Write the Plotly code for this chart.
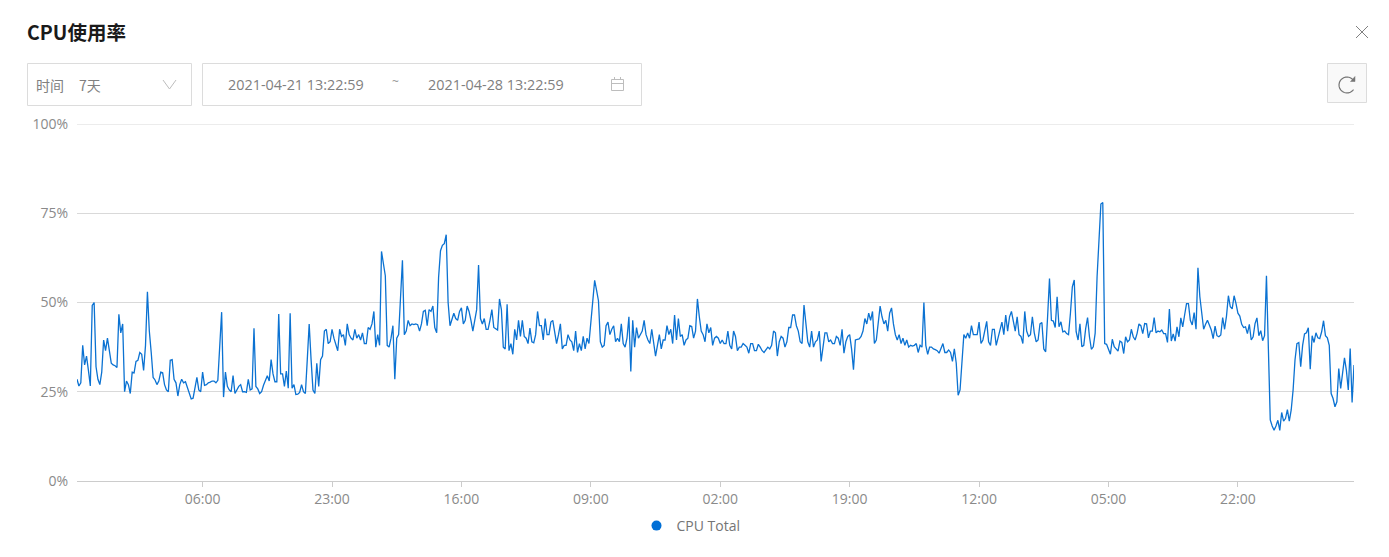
import math
import pandas as pd
import plotly.graph_objects as go

W, H = 1389, 557
L, R, T, B = 77, 35, 124, 76
LINE_COLOR = "#0b72d2"
SERIES_NAME = "CPU Total"
TITLE = "CPU使用率"
RANGE_START = "2021-04-21 13:22:59"
RANGE_END = "2021-04-28 13:22:59"
Y_TICKS = [0, 25, 50, 75, 100]
Y_LABELS = ["0%", "25%", "50%", "75%", "100%"]
X_LABELS = ["06:00", "23:00", "16:00", "09:00", "02:00", "19:00", "12:00", "05:00", "22:00"]

cpu_part_a = [
    28.5, 26.6, 27.5, 38, 32.5, 35, 31, 26.6, 49.2, 50, 32, 28.5, 27, 30.5, 39.5, 36.5, 40, 37, 33, 32.5,
    32.3, 31.8, 46.7, 41.5, 44, 25, 28, 27, 24.5, 30.5, 30.3, 33.5, 33.8, 36, 35.5, 31, 38, 53, 42, 36,
    29, 28.3, 27, 28, 30.5, 30.3, 27, 25.5, 25, 33.8, 34, 28.5, 27.5, 23.8, 27, 28.5, 27.5, 27.8, 26, 24.5,
    23, 23.2, 26, 29, 25.5, 25, 30.5, 26.8, 27, 27.5, 27.7, 28, 28, 27.5, 28.2, 37, 47.3, 23.5, 30.5, 26.5,
    25.5, 25, 29.5, 24.5, 25.5, 26.5, 27, 25, 25, 24.8, 28.5, 25.5, 25.8, 42.8, 26.5, 25.8, 24.5, 25, 26.8, 28,
    29.5, 28, 34, 30, 27.8, 27.8, 46.8, 30, 30, 26.5, 30.8, 26, 47, 26, 27, 24.2, 24.3, 24.8, 27, 25,
    24.5, 34, 44, 34, 25.5, 24.5, 33, 26.5, 34, 35, 42, 42.5, 38.5, 39, 42.5, 40, 38.5, 36.5, 42.5, 40.5,
    41, 38, 44, 41, 40, 39.5, 42.5, 40, 41, 39.5, 41.5, 38.5, 38.5, 43, 42.5, 44, 47.5, 37.5, 41, 38,
    64.3, 61, 57.5, 38, 37.5, 40, 43.5, 28.5, 40, 41, 50,
]
cpu_part_b = [
    61.8, 41, 42, 45, 43.5, 44, 43.8, 44, 43.8, 42, 44, 47.5, 47.8, 43.5, 48, 47.5, 49, 43, 41.5, 57,
    64.5, 66, 66.5, 69, 50, 43.5, 45, 47, 45.5, 45, 47.5, 48.5, 44, 45, 49, 47.5, 45, 42, 45, 48,
    60.5, 45.5, 44, 45.5, 42.5, 42.5, 45, 48, 43, 42.7, 42.3, 51, 48, 37.5, 37, 49.5, 36.5, 38.5, 35.5, 42.5,
    39.5, 45, 40.5, 45, 40.5, 40, 38.5, 42.8, 39, 38.7, 41, 47.5, 43.5, 43.5, 39.5, 45.5, 41, 41, 44.5, 45,
    41, 38.5, 41, 44, 37, 38, 38, 41, 39.5, 39, 36.5, 42, 36, 38.5, 36.5, 40.5, 37, 40, 38.5, 44,
    49, 56.2, 53.5, 50.5, 39, 37.5, 38, 43.5, 44.5, 41, 42.5, 43.5, 39, 40, 39, 44, 38.5, 37.5, 40, 46,
    30.7, 45, 37.5, 43, 40, 41, 42, 45, 41, 39.5, 38.5, 42.5, 38, 35, 38, 41, 37, 39.5, 39.5, 43.5,
    41, 42.5, 38.5, 46.5, 39.5, 45.5, 40.5, 41, 38, 39.5, 40, 43.5, 43.3, 40, 42, 51, 46, 42, 41, 39,
    44, 41.5, 43, 38, 40, 40.5, 40, 38.5,
]
cpu_part_c = [
    39.5, 38.5, 38.5, 42, 38, 37, 42, 40.5, 36.5, 37.5, 37.5, 38.5, 38, 37.5, 35.8, 38.5, 38.5, 36.5, 36.5, 38.3,
    37.5, 36.5, 36, 36.8, 37.5, 37, 38, 42, 41.5, 35, 39, 40.5, 40, 37.5, 39, 43, 43, 46.5, 46.5, 43.5,
    42, 39, 38.5, 49.3, 45, 39, 37.5, 42, 37.5, 39, 39.5, 42, 33.5, 38, 41.5, 41.5, 39, 39.5, 38.5, 38.5,
    40.5, 40, 38, 42.5, 35.8, 39, 40.5, 41, 37, 31.2, 39.5, 39.7, 39.8, 40.5, 42, 45.5, 44, 47, 45, 47.5,
    38.5, 39.5, 44, 49, 46, 44, 45, 42, 47, 48.5, 44, 41, 39.5, 41, 38.5, 40, 38, 39.5, 37.5, 38,
    37.8, 38, 38.5, 36, 38, 37.5, 50, 38, 35.5, 37.5, 37.5, 37, 36.8, 36.5, 35.8, 37.5, 38.5, 36, 36, 36.7,
    36, 33.5, 37, 33, 24, 25.5, 33, 41, 40, 41.5, 40, 43.5, 41, 41, 41, 44.5, 38.5, 39.5, 42, 44.7,
    39, 38, 42.5, 42.5, 38, 40, 42, 44.5, 41, 46.5, 42, 46, 47.5, 44.5, 42, 46, 41, 40.5, 38.5, 47.5,
    42, 40.5, 41, 46, 41.5, 39, 39.5, 44,
]
cpu_part_d = [
    44.4, 37, 36.2, 46, 56.7, 45, 44.8, 43, 51.6, 43.2, 44.6, 41.8, 42, 41.3, 41, 47, 54.4, 56.3, 41.8, 39.5,
    44, 37.6, 38, 42.7, 45.8, 40.4, 36.9, 37.6, 41.4, 57.2, 67.5, 77.6, 78, 38.5, 38.3, 37.1, 35.5, 39.7, 37.6, 37,
    36.4, 39.2, 38.8, 35.7, 40.4, 39, 39.5, 42.5, 40.4, 39.5, 41.3, 44, 43.5, 41.3, 44.1, 44, 40.1, 42, 42, 45.8,
    41.5, 42, 41.8, 42.3, 41.3, 41.3, 38.8, 48.2, 39.2, 41.2, 39.2, 43.2, 40.4, 45.7, 43.2, 46.5, 49.7, 49.7, 45, 43.7,
    47.2, 42.5, 59.7, 51.6, 46, 42.5, 43.9, 45, 43.7, 42.3, 39.9, 43.4, 40.7, 40.4, 40.9, 45.8, 42.5, 46.2, 51.9, 48.8,
    48.2, 51.9, 49.7, 47, 46.2, 43.9, 43, 43.2, 41.3, 43.9, 39.5, 40.4, 44.1, 45.7, 40.7, 42.1, 39.3, 40.7, 57.5, 36.7,
    17.1, 15.4, 14.2, 15.4, 17, 14.2, 19.2, 16.8, 17.5, 20, 16.8, 19.9, 25.5, 33.9, 38.5, 38.8, 32, 38, 41.2, 41.5,
    42.9, 31.3, 40.7, 38.8, 41.5, 40.1, 39.9, 41.8, 44.9, 40.7, 40.1, 38, 24.5, 23.1, 20.8, 22.2, 31.5, 25.9, 31, 34.5,
    31, 25.5, 37.1, 22, 32.5,
]
cpu_values = cpu_part_a + cpu_part_b + cpu_part_c + cpu_part_d

times = pd.date_range("2021-04-21 13:30", periods=len(cpu_values), freq="15min")
x_ticks = pd.date_range("2021-04-22 06:00", periods=len(X_LABELS), freq="17h")
pw, ph = W - L - R, H - T - B


def px(x):
    return (x - L) / pw


def py(y):
    return (H - B - y) / ph


def rect(x0, y0, x1, y1, color="#dcdcdc", fill=None):
    return dict(type="rect", xref="paper", yref="paper", x0=px(x0), y0=py(y0), x1=px(x1), y1=py(y1),
                line=dict(color=color, width=1), fillcolor=fill, layer="above")


def poly(points, color, width=1, fill=None):
    d = "M " + " L ".join(f"{px(a)},{py(b)}" for a, b in points)
    if fill:
        d += " Z"
    return dict(type="path", xref="paper", yref="paper", path=d, line=dict(color=color, width=width),
                fillcolor=fill, layer="above")


def label(x, y, text, size=14, color="#757575", family="Open Sans, Noto Sans CJK SC"):
    return dict(xref="paper", yref="paper", x=px(x), y=py(y), text=text, showarrow=False, xanchor="left",
                yanchor="middle", font=dict(size=size, color=color, family=family), xshift=-2)


arc = [(1347 + 8 * math.cos(math.radians(a)), 85 + 8 * math.sin(math.radians(a))) for a in range(35, 331, 15)]

shapes = [
    dict(type="line", xref="paper", yref="y", x0=0, x1=1, y0=Y_TICKS[-1], y1=Y_TICKS[-1],
         line=dict(color="#d9d9d9", width=1), layer="below"),
    rect(27.5, 63.5, 191.5, 105.5),
    rect(202.5, 63.5, 641.5, 105.5),
    rect(1327.5, 63.5, 1366.5, 102.5, fill="#f9f9f9"),
    poly([(1356, 26), (1368, 38)], "#808080"),
    poly([(1368, 26), (1356, 38)], "#808080"),
    poly([(163, 80), (169.5, 89), (176, 80)], "#bdbdbd"),
    rect(611.5, 79.5, 623.5, 90.5, color="#bdbdbd"),
    poly([(611.5, 83.5), (623.5, 83.5)], "#bdbdbd"),
    poly([(614.5, 77), (614.5, 79.5)], "#bdbdbd"),
    poly([(620.5, 77), (620.5, 79.5)], "#bdbdbd"),
    poly(arc, "#757575", 1.2),
    poly([(1355, 76.5), (1355, 81.5), (1350.5, 81.5)], "#757575", 0.5, fill="#757575"),
]
annotations = [
    label(27, 31, f"<b>{TITLE}</b>", size=19.5, color="#1a1a1a", family="Noto Sans CJK SC"),
    label(36, 85, "时间", color="#808080", family="Noto Sans CJK SC"),
    label(79, 85, "7天", color="#808080", family="Noto Sans CJK SC"),
    label(228, 85, RANGE_START, size=14.4, color="#808080"),
    label(392, 81, "~", size=12, color="#999999"),
    label(428, 85, RANGE_END, size=14.4, color="#808080"),
]

fig = go.Figure()
fig.add_trace(go.Scatter(x=times, y=cpu_values, mode="lines", showlegend=False, hoverinfo="skip",
                         line=dict(color=LINE_COLOR, width=1.3)))
fig.add_trace(go.Scatter(x=[None], y=[None], mode="markers", name=SERIES_NAME,
                         marker=dict(color="#006fd6", size=10, symbol="circle")))
fig.update_layout(
    width=W, height=H, autosize=False,
    margin=dict(l=L, r=R, t=T, b=B, pad=0),
    paper_bgcolor="white", plot_bgcolor="white",
    font=dict(family="Open Sans, Noto Sans CJK SC", size=14, color="#8a8a8a"),
    xaxis=dict(range=[times[0], times[-1]], tickmode="array",
               tickvals=list(x_ticks), ticktext=X_LABELS, showgrid=False, showline=True, linecolor="#cccccc",
               linewidth=1, ticks="outside", ticklen=5, tickcolor="#cccccc",
               tickfont=dict(size=14, color="#8a8a8a")),
    yaxis=dict(range=[0, 100], tickmode="array", tickvals=Y_TICKS, ticktext=Y_LABELS, showgrid=True,
               gridcolor="#d9d9d9", gridwidth=1, zeroline=False, showline=False, ticks="", ticklabelstandoff=8,
               tickfont=dict(size=14, color="#8a8a8a")),
    legend=dict(orientation="h", x=px(691), y=py(526), xanchor="center", yanchor="middle",
                font=dict(size=14, color="#757575"), bgcolor="rgba(0,0,0,0)"),
    shapes=shapes, annotations=annotations,
)
fig.write_html("out.html", config=dict(displayModeBar=False),
               post_script="document.body.style.margin='0';document.documentElement.style.overflow='hidden';")
